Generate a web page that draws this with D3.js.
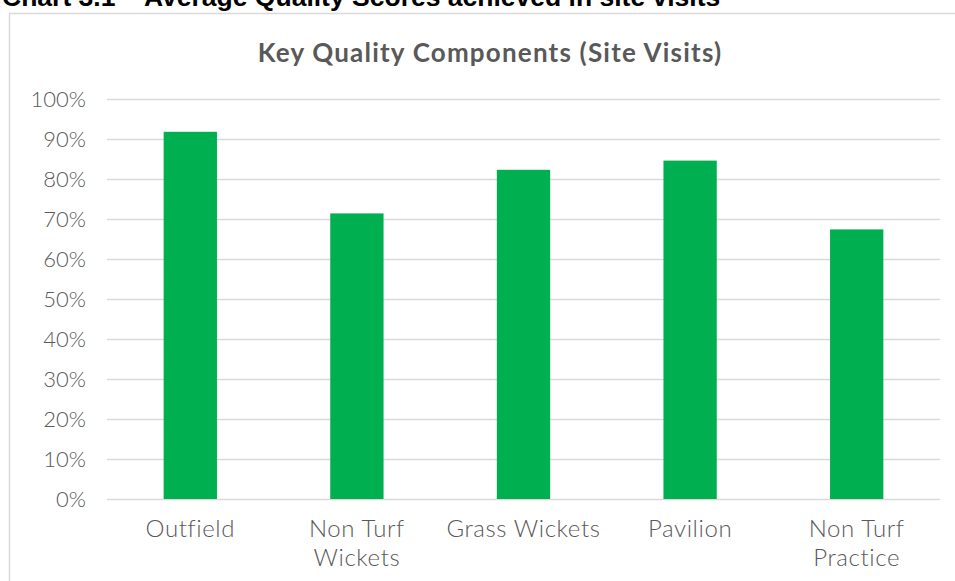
<!DOCTYPE html>
<html>
<head>
<meta charset="utf-8">
<script src="https://cdn.jsdelivr.net/npm/d3@7"></script>
<style>
  html, body { margin: 0; padding: 0; background: #fff; overflow: hidden; }
  svg { display: block; }
</style>
</head>
<body>
<svg id="chart" width="955" height="581"></svg>
<script>
const caption = "Chart 3.1 \u2013 Average Quality Scores achieved in site visits";
const chartTitle = "Key Quality Components (Site Visits)";
const categories = ["Outfield", "Non Turf Wickets", "Grass Wickets", "Pavilion", "Non Turf Practice"];
const categoryLines = [["Outfield"], ["Non Turf", "Wickets"], ["Grass Wickets"], ["Pavilion"], ["Non Turf", "Practice"]];
const scores = [0.918, 0.714, 0.823, 0.846, 0.674];
const yTicks = [0, 0.1, 0.2, 0.3, 0.4, 0.5, 0.6, 0.7, 0.8, 0.9, 1.0];

const svg = d3.select("#chart");
const fontFam = "Lato, 'Open Sans', sans-serif";
const textGrey = "#595959";
const gridGrey = "#d9d9d9";

// caption (cut off at top of the picture, as in the reference)
svg.append("text")
  .attr("x", 2).attr("y", 6)
  .attr("font-family", "'Liberation Sans', Arial, sans-serif")
  .attr("font-weight", "bold")
  .attr("font-size", 26.5)
  .attr("fill", "#000")
  .text(caption);

// chart border
svg.append("rect")
  .attr("x", 9.5).attr("y", 13.5)
  .attr("width", 1000).attr("height", 1000)
  .attr("fill", "#fff")
  .attr("stroke", gridGrey)
  .attr("stroke-width", 1.5);

// title
svg.append("text")
  .attr("x", 490).attr("y", 62)
  .attr("text-anchor", "middle")
  .attr("font-family", fontFam)
  .attr("font-weight", "bold")
  .attr("font-size", 26)
  .attr("letter-spacing", 1.2)
  .attr("fill", textGrey)
  .text(chartTitle);

const x = d3.scaleBand()
  .domain(categories)
  .range([107, 940])
  .paddingInner(0.68)
  .paddingOuter(0.34);

const y = d3.scaleLinear().domain([0, 1]).range([499, 99]);

// gridlines + y labels
const yAxis = d3.axisLeft(y)
  .tickValues(yTicks)
  .tickFormat(d3.format(".0%"))
  .tickSize(-(940 - 107))
  .tickPadding(21);

const gy = svg.append("g")
  .attr("transform", "translate(107,0)")
  .call(yAxis);
gy.select(".domain").remove();
gy.selectAll(".tick line")
  .attr("stroke", gridGrey)
  .attr("stroke-width", 1.5);
gy.selectAll(".tick text")
  .attr("font-family", fontFam)
  .attr("font-weight", 300)
  .attr("font-size", 22)
  .attr("fill", textGrey);

// bars
svg.append("g")
  .selectAll("rect")
  .data(categories)
  .join("rect")
  .attr("x", d => x(d))
  .attr("width", x.bandwidth())
  .attr("y", (d, i) => y(scores[i]))
  .attr("height", (d, i) => y(0) - y(scores[i]))
  .attr("fill", "#00B050");

// category labels
const xl = svg.append("g");
categories.forEach((c, i) => {
  const t = xl.append("text")
    .attr("text-anchor", "middle")
    .attr("font-family", fontFam)
    .attr("font-weight", 300)
    .attr("font-size", 24)
    .attr("letter-spacing", 0.6)
    .attr("fill", textGrey);
  categoryLines[i].forEach((line, j) => {
    t.append("tspan")
      .attr("x", x(c) + x.bandwidth() / 2)
      .attr("y", 537 + j * 29)
      .text(line);
  });
});
</script>
</body>
</html>
